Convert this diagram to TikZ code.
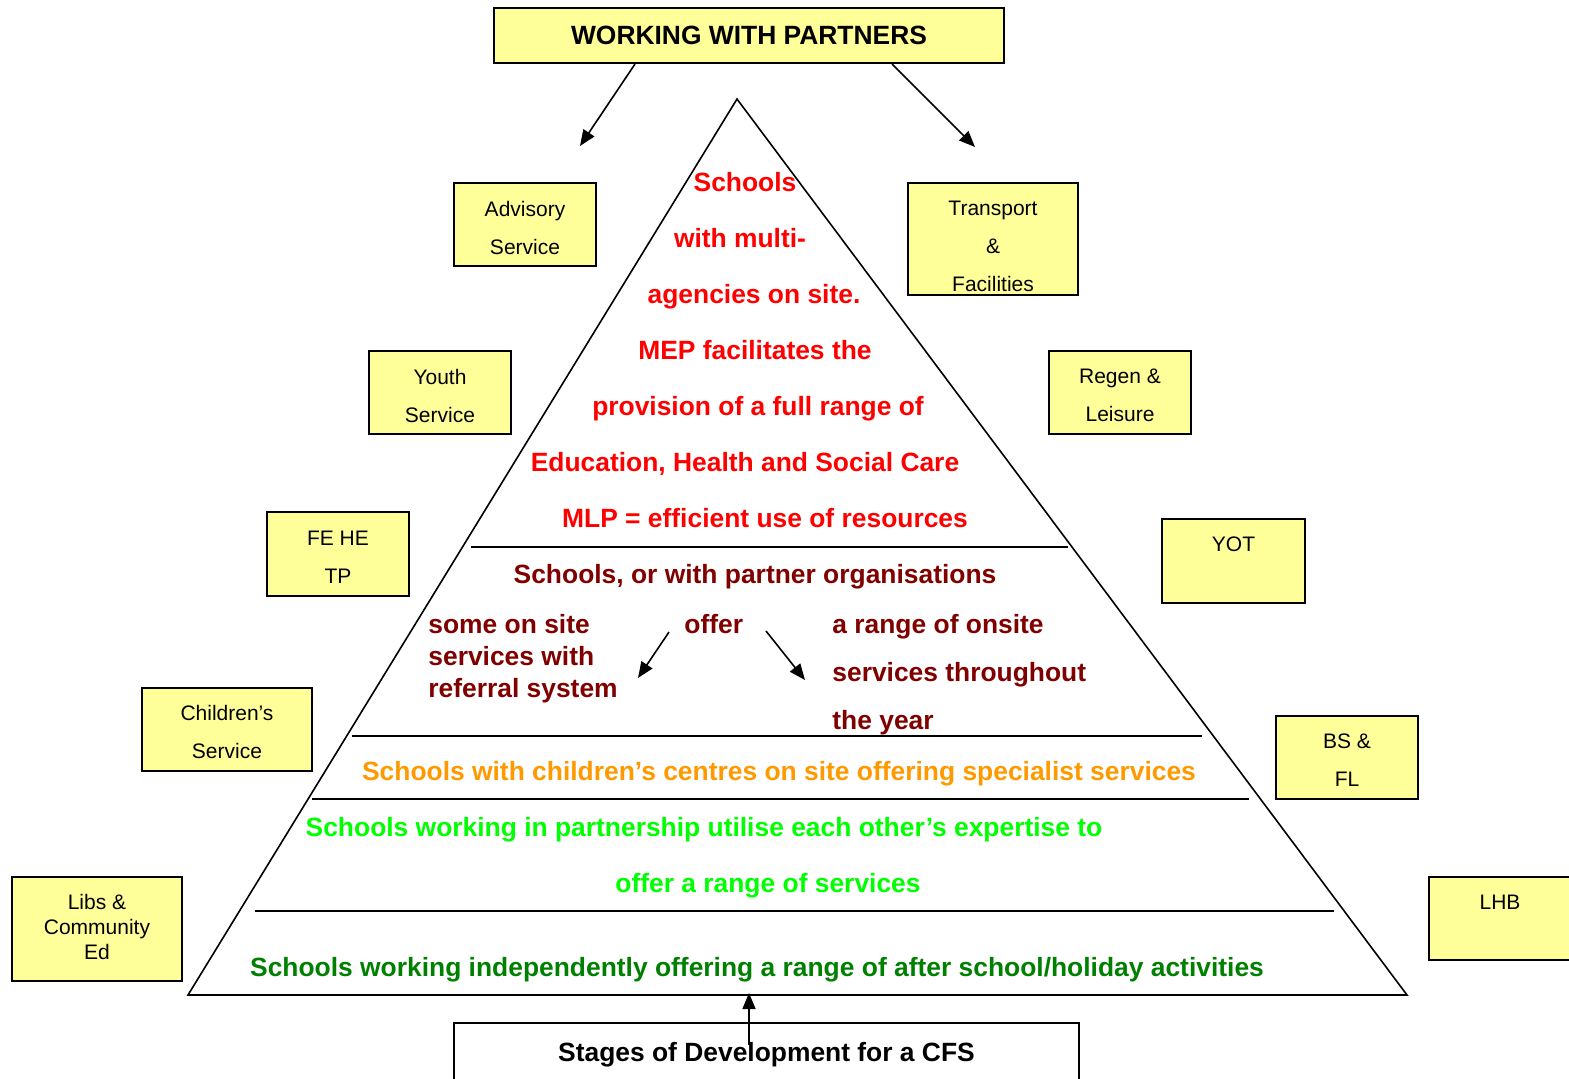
\documentclass[tikz,border=0pt]{standalone}
\usepackage{fontspec}
\setmainfont{Liberation Sans}
\usetikzlibrary{arrows.meta}
\definecolor{boxyellow}{HTML}{FFFF99}
\definecolor{pred}{HTML}{FF0000}
\definecolor{pdarkred}{HTML}{800000}
\definecolor{porange}{HTML}{FF9900}
\definecolor{plime}{HTML}{00FF00}
\definecolor{pgreen}{HTML}{008000}
\tikzset{
  pbox/.style={draw=black, line width=1pt, fill=boxyellow, rectangle, inner sep=0pt},
  boxtxt/.style={inner sep=0pt, align=center, font=\fontsize{10.5}{19}\selectfont},
  titlebox/.style={draw=black, line width=1pt, fill=boxyellow, rectangle, inner sep=0pt,
    font=\fontsize{13.2}{16}\selectfont\bfseries},
  plain/.style={draw=black, line width=1pt, fill=white, rectangle, inner sep=0pt},
  ptxt/.style={inner sep=0pt, font=\fontsize{13.2}{16}\selectfont\bfseries},
  conn/.style={line width=0.8pt, -{Triangle[length=8pt,width=6.5pt]}},
  pline/.style={line width=0.8pt},
}
\begin{document}
\begin{tikzpicture}[x=0.5pt,y=-0.5pt]
\useasboundingbox (0,0) rectangle (1569,1078);
% title
\node[titlebox, minimum width=255pt, minimum height=27.5pt] (title) at (749,35.5) {WORKING WITH PARTNERS};
\coordinate (tl) at (635,64);
\coordinate (tlend) at (580,146);
\coordinate (tr) at (892,64);
\coordinate (trend) at (975,147);
\draw[conn] (tl) -- (tlend);
\draw[conn] (tr) -- (trend);
% pyramid
\coordinate (apex) at (737,99);
\coordinate (bl) at (188,995);
\coordinate (br) at (1407,995);
\draw[pline] (apex) -- (bl) -- (br) -- cycle;
\coordinate (l1a) at (471,547); \coordinate (l1b) at (1068,547);
\coordinate (l2a) at (352,736); \coordinate (l2b) at (1202,736);
\coordinate (l3a) at (312,799); \coordinate (l3b) at (1249,799);
\coordinate (l4a) at (255,911); \coordinate (l4b) at (1334,911);
\draw[pline] (l1a) -- (l1b);
\draw[pline] (l2a) -- (l2b);
\draw[pline] (l3a) -- (l3b);
\draw[pline] (l4a) -- (l4b);
% side boxes
\node[pbox, minimum width=71pt, minimum height=41.5pt] (adv) at (525,224.5) {};
\node[boxtxt] (advt) at (525,227.5) {Advisory\\Service};
\node[pbox, minimum width=85pt, minimum height=56pt] (trans) at (993,239) {};
\node[boxtxt] (transt) at (993,246) {Transport\\\&\\Facilities};
\node[pbox, minimum width=71pt, minimum height=41.5pt] (youth) at (440,392.5) {};
\node[boxtxt] (youtht) at (440,395.5) {Youth\\Service};
\node[pbox, minimum width=71pt, minimum height=41.5pt] (regen) at (1120,392.5) {};
\node[boxtxt] (regent) at (1120,395.5) {Regen \&\\Leisure};
\node[pbox, minimum width=71pt, minimum height=42pt] (fehe) at (338,554) {};
\node[boxtxt] (fehet) at (338,557) {FE HE\\TP};
\node[pbox, minimum width=71.5pt, minimum height=42pt] (yot) at (1233.5,561) {};
\node[boxtxt, anchor=base] (yott) at (1233.5,551) {YOT};
\node[pbox, minimum width=85pt, minimum height=41.5pt] (child) at (227,729.5) {};
\node[boxtxt] (childt) at (227,731.5) {Children’s\\Service};
\node[pbox, minimum width=71pt, minimum height=41.5pt] (bsfl) at (1347,757.5) {};
\node[boxtxt] (bsflt) at (1347,760.5) {BS \&\\FL};
\node[pbox, minimum width=85pt, minimum height=52pt] (libs) at (97,929) {};
\node[boxtxt, font=\fontsize{10.5}{12.5}\selectfont] (libst) at (97,927) {Libs \&\\Community\\Ed};
\node[pbox, minimum width=71pt, minimum height=41.5pt] (lhb) at (1500,918.5) {};
\node[boxtxt, anchor=base] (lhbt) at (1500,909) {LHB};
% red block
\node[ptxt, text=pred] (r1) at (745,182) {Schools};
\node[ptxt, text=pred] (r2) at (740,238) {with multi-};
\node[ptxt, text=pred] (r3) at (754,297) {agencies on site.};
\node[ptxt, text=pred] (r4) at (755,350) {MEP facilitates the};
\node[ptxt, text=pred] (r5) at (758,409) {provision of a full range of};
\node[ptxt, text=pred] (r6) at (745,464) {Education, Health and Social Care};
\node[ptxt, text=pred] (r7) at (765,518) {MLP = efficient use of resources};
% dark red block
\node[ptxt, text=pdarkred] (d1) at (755,577) {Schools, or with partner organisations};
\node[ptxt, text=pdarkred, anchor=west] (d2) at (428,624) {some on site};
\node[ptxt, text=pdarkred, anchor=west] (d3) at (428,656) {services with};
\node[ptxt, text=pdarkred, anchor=west] (d4) at (428,691) {referral system};
\node[ptxt, text=pdarkred, anchor=west] (off) at (684,624) {offer};
\node[ptxt, text=pdarkred, anchor=west] (d5) at (832,627) {a range of onsite};
\node[ptxt, text=pdarkred, anchor=west] (d6) at (832,675) {services throughout};
\node[ptxt, text=pdarkred, anchor=west] (d7) at (832,723) {the year};
\coordinate (oa) at (669,632); \coordinate (oaend) at (638,678);
\coordinate (ob) at (766,631); \coordinate (obend) at (805,680);
\draw[conn] (oa) -- (oaend);
\draw[conn] (ob) -- (obend);
% orange
\node[ptxt, text=porange] (o1) at (779,774) {Schools with children’s centres on site offering specialist services};
% lime
\node[ptxt, text=plime] (g1) at (704,830) {Schools working in partnership utilise each other’s expertise to};
\node[ptxt, text=plime] (g2) at (768,886) {offer a range of services};
% dark green
\node[ptxt, text=pgreen] (g3) at (757,970) {Schools working independently offering a range of after school/holiday activities};
% bottom box
\node[plain, minimum width=312.5pt, minimum height=30pt] (stages) at (766.5,1053) {};
\node[ptxt] (stagest) at (766.5,1055) {Stages of Development for a CFS};
\coordinate (up) at (749,1045);
\coordinate (upend) at (749,993);
\draw[conn] (up) -- (upend);
\end{tikzpicture}
\end{document}
